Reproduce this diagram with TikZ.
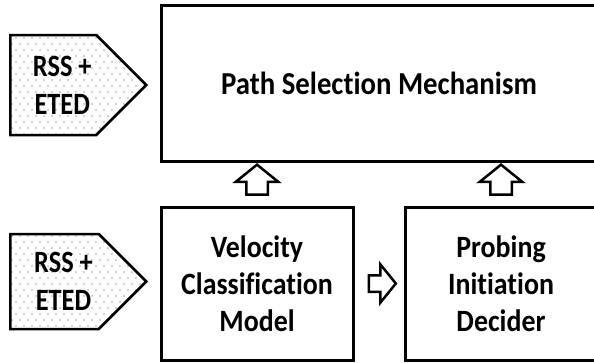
\documentclass[tikz,border=0pt]{standalone}
\usepackage{fontspec}
\setmainfont{Carlito}[Ligatures=NoCommon,FakeStretch=0.9]
\newfontfamily\inputfont{Carlito}[Ligatures=NoCommon,FakeStretch=0.85]
\usetikzlibrary{shapes.symbols,shapes.arrows,patterns,calc}

\pgfdeclarepatternformonly{sparsedots}{\pgfqpoint{-1pt}{-1pt}}{\pgfqpoint{9pt}{13pt}}{\pgfqpoint{8pt}{12pt}}{%
  \pgfpathcircle{\pgfqpoint{0pt}{0pt}}{0.7pt}
  \pgfpathcircle{\pgfqpoint{4pt}{6pt}}{0.7pt}
  \pgfusepath{fill}}

\newcommand{\inputlines}{\hspace*{18pt}RSS +\\\hspace*{18pt}ETED}

\begin{document}
\begin{tikzpicture}[x=1pt,y=-1pt,
    font=\fontsize{31}{37}\selectfont\bfseries]

        \useasboundingbox (0,0) rectangle (594,362);

        \begin{scope}[every node/.style={draw,line width=3pt,align=center,
              inner sep=0pt,minimum width=192pt,minimum height=153pt}]
          \node (psm) at (379,83)    [minimum width=436pt,minimum height=156pt,
              font=\fontsize{32}{37}\selectfont\bfseries] {Path Selection Mechanism};
          \node (vcm) at (257,283.5) {Velocity\\Classification\\Model};
          \node (pid) at (501,283.5) {Probing\\Initiation\\Decider};
        \end{scope}

        \begin{scope}[every node/.style={signal,signal to=east,draw,line width=2.5pt,
              pattern=sparsedots,pattern color=black!75,align=center,inner sep=0pt,
              signal pointer angle=90,minimum width=136pt,anchor=west,
              font=\inputfont\fontsize{31}{38}\selectfont\bfseries}]
          \node (in1) at (9,85)    [minimum height=100pt] {\inputlines};
          \node (in2) at (9,281.5) [minimum height=95pt]  {\inputlines};
        \end{scope}

        \begin{scope}[every node/.style={single arrow,draw,fill=white,line width=2.5pt,
              inner xsep=0pt,inner ysep=9.5pt,text width=0pt,text height=0pt,text depth=0pt,
              single arrow head extend=10.5pt,single arrow tip angle=102,minimum height=30pt}]
          \node (up1) at ($(vcm.north)!0.5!(vcm.north|-psm.south)$) [rotate=90] {};
          \node (up2) at ($(pid.north)!0.5!(pid.north|-psm.south)$) [rotate=90] {};
          \node (rt)  at ($(vcm.east)!0.5!(pid.west)$) [inner ysep=7pt,single arrow head extend=11pt,
              minimum height=27pt] {};
        \end{scope}

      \end{tikzpicture}
\end{document}
